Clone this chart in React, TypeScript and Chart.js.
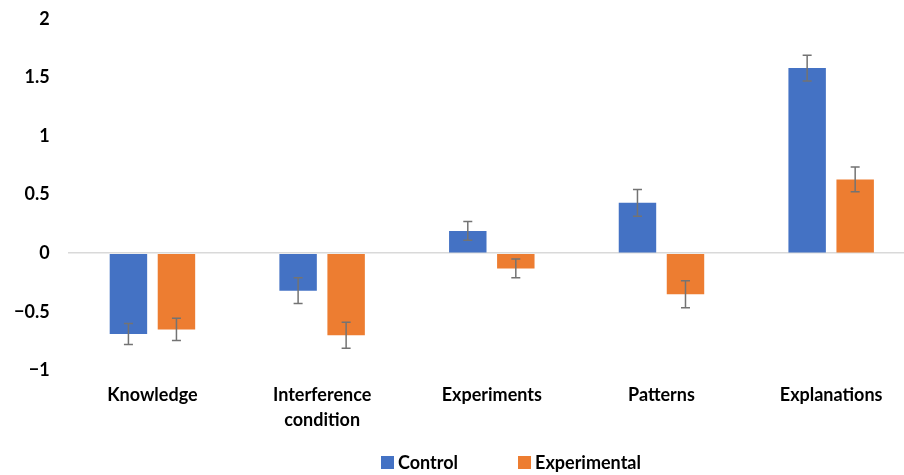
import React, { useEffect, useRef } from "react";
import { Chart, registerables, Plugin } from "chart.js";

Chart.register(...registerables);

const categories = ["Knowledge", ["Interference", "condition"], "Experiments", "Patterns", "Explanations"];
const controlValues = [-0.69, -0.32, 0.19, 0.43, 1.58];
const controlErrors = [0.09, 0.11, 0.08, 0.115, 0.11];
const experimentalValues = [-0.65, -0.7, -0.13, -0.35, 0.63];
const experimentalErrors = [0.095, 0.11, 0.08, 0.115, 0.105];
const seriesNames = ["Control", "Experimental"];
const seriesColors = ["#4472C4", "#ED7D31"];

const FONT = "Lato, 'DejaVu Sans', sans-serif";

// draws the +/- error bars on top of each bar
const errorBars: Plugin<"bar"> = {
  id: "errorBars",
  afterDatasetsDraw(chart) {
    const ctx = chart.ctx;
    const y = chart.scales.y;
    const errs = [controlErrors, experimentalErrors];
    ctx.save();
    ctx.strokeStyle = "#737373";
    ctx.lineWidth = 1.5;
    chart.data.datasets.forEach((ds, di) => {
      const meta = chart.getDatasetMeta(di);
      meta.data.forEach((bar: any, i) => {
        const v = ds.data[i] as number;
        const e = errs[di][i];
        const top = y.getPixelForValue(v + e);
        const bot = y.getPixelForValue(v - e);
        ctx.beginPath();
        ctx.moveTo(bar.x, top);
        ctx.lineTo(bar.x, bot);
        ctx.moveTo(bar.x - 4.5, top);
        ctx.lineTo(bar.x + 4.5, top);
        ctx.moveTo(bar.x - 4.5, bot);
        ctx.lineTo(bar.x + 4.5, bot);
        ctx.stroke();
      });
    });
    ctx.restore();
  },
};

function BarChart() {
  const chartRef = useRef<HTMLCanvasElement | null>(null);

  useEffect(() => {
    if (!chartRef.current) return;
    const chart = new Chart(chartRef.current, {
      type: "bar",
      data: {
        labels: categories as any,
        datasets: [
          {
            label: seriesNames[0],
            data: controlValues,
            backgroundColor: seriesColors[0],
            categoryPercentage: 0.566,
            barPercentage: 0.78,
          },
          {
            label: seriesNames[1],
            data: experimentalValues,
            backgroundColor: seriesColors[1],
            categoryPercentage: 0.566,
            barPercentage: 0.78,
          },
        ],
      },
      options: {
        responsive: false,
        animation: false,
        layout: { padding: { left: -4, right: 24, top: 0, bottom: 30 } },
        plugins: {
          legend: { display: false },
          tooltip: { enabled: false },
        },
        scales: {
          x: {
            grid: { display: false, drawTicks: false },
            border: { display: false },
            ticks: {
              padding: 13,
              color: "#000",
              maxRotation: 0,
              font: { family: FONT, size: 18, weight: "bold", lineHeight: 1.35 },
            },
          },
          y: {
            min: -1,
            max: 2,
            grid: {
              drawTicks: false,
              lineWidth: 1.5,
              color: (c: any) => (c.tick && c.tick.value === 0 ? "#d9d9d9" : "rgba(0,0,0,0)"),
            },
            border: { display: false },
            ticks: {
              stepSize: 0.5,
              padding: 18,
              color: "#000",
              font: { family: FONT, size: 18, weight: "bold", lineHeight: 0.1 },
              callback: (v: any) => String(v).replace("-", "\u2212"),
            },
          },
        },
      },
      plugins: [errorBars],
    });
    return () => chart.destroy();
  }, []);

  return <canvas ref={chartRef} width={940} height={475} />;
}

export default function App() {
  return (
    <div
      style={{
        position: "fixed",
        left: 0,
        top: 0,
        width: 904,
        height: 475,
        overflow: "hidden",
        background: "#fff",
      }}
    >
      <BarChart />
      <div
        style={{
          position: "absolute",
          top: 451,
          left: 381,
          display: "flex",
          alignItems: "center",
          fontFamily: FONT,
          fontWeight: "bold",
          fontSize: 18,
          color: "#000",
        }}
      >
        {seriesNames.map((name, i) => (
          <div key={name} style={{ display: "flex", alignItems: "center", marginRight: i === 0 ? 60 : 0 }}>
            <span style={{ width: 13, height: 13, background: seriesColors[i], marginRight: 4 }} />
            <span>{name}</span>
          </div>
        ))}
      </div>
    </div>
  );
}
